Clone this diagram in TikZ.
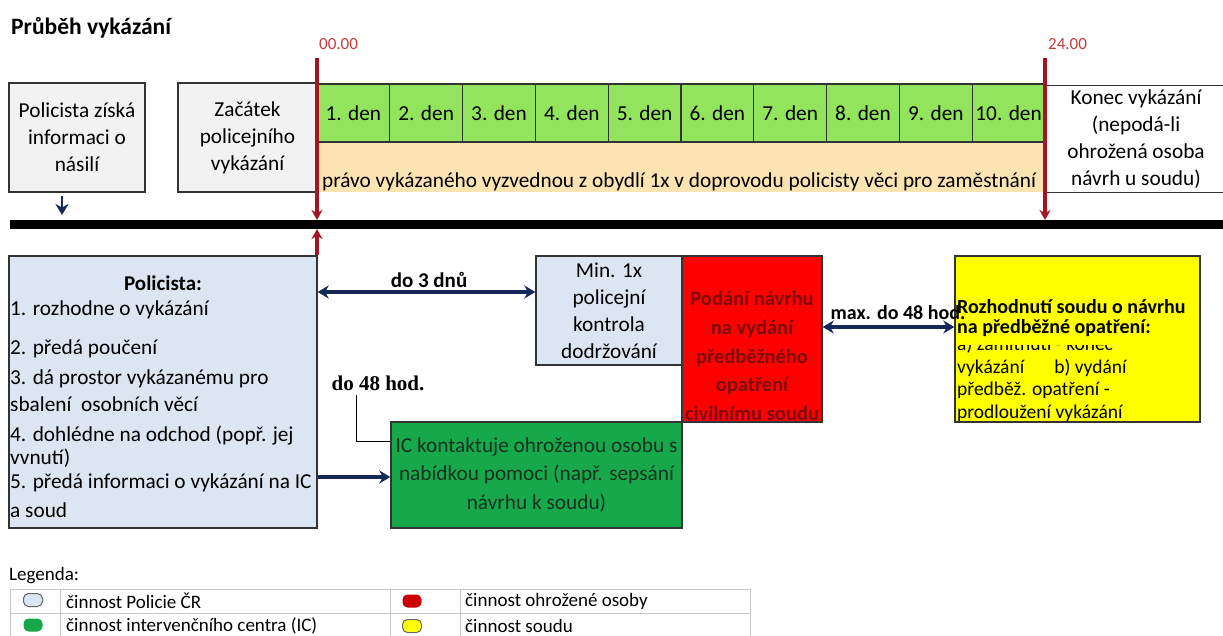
\documentclass[tikz,border=0pt]{standalone}
\usepackage{fontspec}
\setmainfont{Carlito}
\newfontfamily\timesbf{Liberation Serif}
\usetikzlibrary{arrows.meta,positioning}

\definecolor{grayfill}{RGB}{242,242,242}
\definecolor{dayfill}{RGB}{146,228,92}
\definecolor{bandfill}{RGB}{252,228,178}
\definecolor{polfill}{RGB}{220,230,242}
\definecolor{icfill}{RGB}{24,168,76}
\definecolor{ictext}{RGB}{20,50,28}
\definecolor{redfill}{RGB}{255,0,0}
\definecolor{redtext}{RGB}{125,10,10}
\definecolor{yelfill}{RGB}{255,255,0}
\definecolor{navy}{RGB}{22,40,88}
\definecolor{timeline}{RGB}{165,20,35}
\definecolor{timelabel}{RGB}{195,60,60}
\definecolor{legline}{RGB}{200,200,200}

\begin{document}
\begin{tikzpicture}[x=1pt, y=-1pt,
    box/.style={draw=black!80, line width=1.4pt, inner sep=2pt, align=center,
                font=\fontsize{21.3}{27}\selectfont},
    txt/.style={inner sep=0pt, font=\fontsize{21.3}{27}\selectfont},
    bold/.style={inner sep=0pt, font=\fontsize{21}{27}\selectfont\bfseries},
    yel/.style={inner sep=0pt, anchor=west, font=\fontsize{19.5}{22}\selectfont},
    day/.style={draw=black!80, line width=1.2pt, fill=dayfill, minimum width=72.8pt,
                minimum height=58pt, inner sep=0pt, font=\fontsize{21.3}{27}\selectfont},
    tline/.style={timeline, line width=3.4pt, -{Stealth[length=10pt,width=11pt]}},
    tlabel/.style={timelabel, inner sep=0pt, anchor=west, font=\fontsize{17}{17}\selectfont},
    link/.style={navy, line width=3.6pt, -{Stealth[length=11pt,width=13pt]}},
    both/.style={navy, line width=3.6pt, {Stealth[length=11pt,width=13pt]}-{Stealth[length=11pt,width=13pt]}},
    blob/.style={rounded corners=5pt, minimum width=19pt, minimum height=13pt, inner sep=0pt, line width=1pt},
    legtxt/.style={inner sep=0pt, anchor=west, font=\fontsize{19}{19}\selectfont}]
  \useasboundingbox (0,0) rectangle (1223,636);

  \node[anchor=west, inner sep=0pt, font=\fontsize{23.5}{23.5}\selectfont\bfseries] (title) at (11,28) {Průběh vykázání};

  \node[box, fill=grayfill, minimum width=136pt, minimum height=109pt] (info) at (77,137.5)
       {Policista získá\\informaci o\\násilí};
  \node[box, fill=grayfill, minimum width=139pt, minimum height=109pt] (start) at (247.5,137.5)
       {Začátek\\policejního\\vykázání};

  \node[fill=bandfill, minimum width=728pt, minimum height=51pt, inner sep=0pt] (band) at (681,166.5) {};
  \node[txt, anchor=west] (bandtxt) at (322,182)
       {právo vykázaného vyzvednou z obydlí 1x v doprovodu policisty věci pro zaměstnání};
  \foreach \i in {1,...,10}
      \node[day] (d\i) at ({317+72.8*(\i-0.5)},113) {\i. den};

  \node[box, draw=none, fill=white, minimum width=182pt, minimum height=109pt] (end) at (1136,139)
       {Konec vykázání\\(nepodá-li\\ohrožená osoba\\návrh u soudu)};
  \draw[black!80, line width=1.4pt] ([yshift=-1.5pt]end.north west) -- ([yshift=-1.5pt]end.north east);
  \draw[black!80, line width=1.4pt] ([yshift=1.5pt]end.south west) -- ([yshift=1.5pt]end.south east);

  \coordinate (barL) at (10,224.5);
  \coordinate (barR) at (1223,224.5);
  \draw[line width=9pt] (barL) -- (barR);

  \coordinate (s0) at (317,58);
  \coordinate (e0) at (317,220);
  \coordinate (u0) at (317,229);
  \coordinate (s24) at (1045,58);
  \coordinate (e24) at (1045,220);
  \draw[tline] (s0) -- (e0);
  \draw[tline] (s24) -- (e24);
  \node[tlabel] (l0) at (319,44) {00.00};
  \node[tlabel] (l24) at (1048,44) {24.00};

  \coordinate (a1) at (62,215);
  \draw[link, line width=2.6pt] ([xshift=-15pt,yshift=-3pt]info.south) -- (a1);

  \node[box, fill=polfill, minimum width=308pt, minimum height=272pt] (pol) at (163,392) {};
  \draw[tline] (pol.north -| u0) -- (u0);
  \node[bold] (polhead) at (163,283) {Policista:};
  \node[txt, anchor=north west, align=left] (politems) at (10,301)
       {1. rozhodne o vykázání\\[12pt]
        2. předá poučení\\[3pt]
        3. dá prostor vykázanému pro\\
        sbalení\ \ osobních věcí\\[3pt]
        4. dohlédne na odchod (popř. jej\\[-4pt]
        vvnutí)\\[-3pt]
        5. předá informaci o vykázání na IC\\[2pt]
        a soud};

  \node[box, fill=polfill, minimum width=146pt, minimum height=109pt] (chk) at (609,310.5)
       {Min. 1x\\policejní\\kontrola\\dodržování};
  \node[box, fill=redfill, minimum width=140pt, minimum height=166pt] (zad) at (752,339) {};
  \node[bold, text=redtext, align=center, font=\fontsize{20.5}{28.7}\selectfont\bfseries] (zadtxt) at (752,356)
       {Podání návrhu\\na vydání\\předběžného\\opatření\\civilnímu soudu};
  \node[box, fill=icfill, text=ictext, minimum width=291pt, minimum height=106pt,
        font=\fontsize{21.3}{28.5}\selectfont] (ic) at (536.5,475)
       {IC kontaktuje ohroženou osobu s\\nabídkou pomoci (např. sepsání\\návrhu k soudu)};
  \node[box, fill=yelfill, minimum width=245pt, minimum height=166pt] (soud) at (1077.5,339) {};

  \node[yel, font=\fontsize{20}{22}\selectfont\bfseries] (s1) at (957,307) {Rozhodnutí soudu o návrhu};
  \node[yel, font=\fontsize{20}{22}\selectfont\bfseries] (s2) at (957,328) {na předběžné opatření:};
  \begin{scope}
    \clip (956,345.5) rectangle (1198,358);
    \node[yel] (s3) at (957,345) {a) zamítnutí - konec};
  \end{scope}
  \node[yel] (s4) at (957,368) {vykázání\hspace{30pt}b) vydání};
  \node[yel] (s5) at (957,390) {předběž. opatření -};
  \node[yel] (s6) at (957,413) {prodloužení vykázání};

  \draw[both] ([yshift=100pt]pol.east) -- ([yshift=18.5pt]chk.west);
  \node[bold] (l3) at (429,280) {do 3 dnů};
  \draw[both] ([yshift=12pt]zad.east) -- ([yshift=12pt]soud.west);
  \node[bold, font=\fontsize{20}{20}\selectfont\bfseries] (l48) at (898,313) {max. do 48 hod.};
  \draw[link] ([yshift=-85pt]pol.east) -- ([yshift=-2pt]ic.west);

  \node[inner sep=0pt, font=\fontsize{21}{21}\timesbf\bfseries] (h48) at (378,383) {do 48 hod.};
  \draw[line width=1pt] ([xshift=-22pt,yshift=-4pt]h48.south) |- ([yshift=34pt]ic.west);

  \node[legtxt] (leg) at (9,576) {Legenda:};
  \foreach \y in {589,613}
      \draw[legline, line width=1pt] (10,\y) -- (750,\y);
  \foreach \x in {10,60,390,460,750}
      \draw[legline, line width=1pt] (\x,589) -- (\x,640);
  \node[blob, draw=black!60, fill=polfill] (b1) at (33,600) {};
  \node[blob, fill=icfill] (b2) at (33,625) {};
  \node[blob, fill=red!80!black] (b3) at (412,601) {};
  \node[blob, draw=black!60, fill=yelfill] (b4) at (412,626) {};
  \node[legtxt] (t1) at (66,601) {činnost Policie ČR};
  \node[legtxt] (t2) at (66,626) {činnost intervenčního centra (IC)};
  \node[legtxt] (t3) at (465,601) {činnost ohrožené osoby};
  \node[legtxt] (t4) at (465,626) {činnost soudu};
\end{tikzpicture}
\end{document}
